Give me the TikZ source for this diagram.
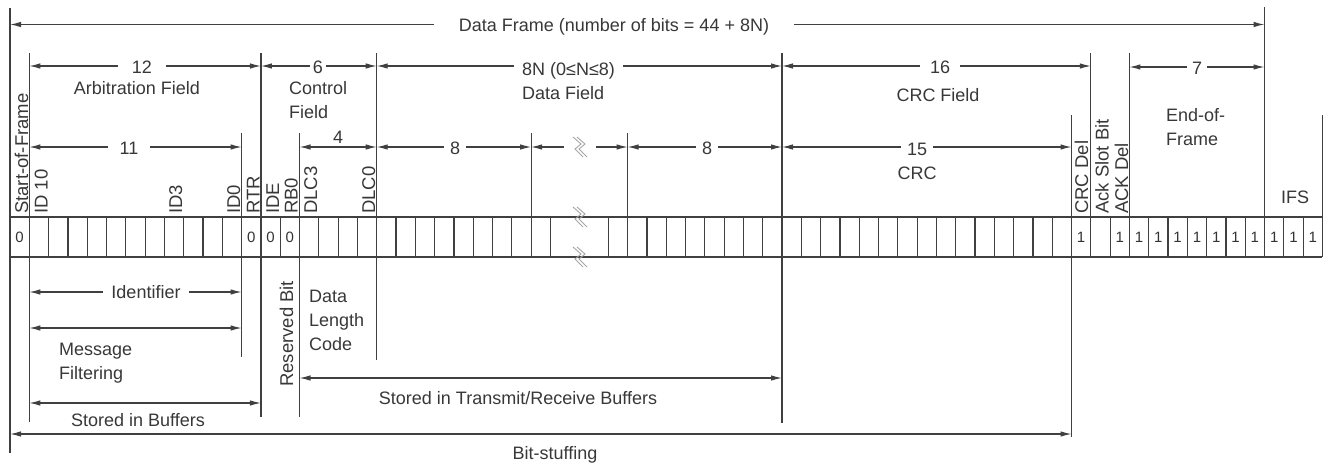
\documentclass[tikz,border=0pt]{standalone}
\usepackage{fontspec}
\setmainfont{Liberation Sans}
\usetikzlibrary{arrows.meta}
\newcommand\mydim[4]{%
  \coordinate (#1L) at ({10+#2*19.3},#4);
  \coordinate (#1R) at ({10+#3*19.3},#4);
  \draw[dimline] (#1L) -- (#1R);}
\begin{document}
\begin{tikzpicture}[x=1pt,y=-1pt,
  line/.style={draw=black!75, line width=1.2pt},
  dimline/.style={draw=black!75, line width=1.1pt, {Latex[length=11pt,width=5.5pt]}-{Latex[length=11pt,width=5.5pt]}},
  lbl/.style={font=\fontsize{18}{24}\selectfont, text=black!78, inner sep=0pt},
  gaplbl/.style={lbl, fill=white, anchor=base},
  vlbl/.style={lbl, font=\fontsize{18.5}{24}\selectfont, rotate=90, anchor=base west},
  bitval/.style={font=\fontsize{15}{18}\selectfont, text=black!80, inner sep=0pt},
  brkmark/.style={draw=black!35, line width=0.9pt}
]
\useasboundingbox (0,0) rectangle (1329,466);
% bit row
\foreach \i in {0,...,68}{
  \coordinate (t\i) at ({10+\i*19.3},217);
  \coordinate (b\i) at ({10+\i*19.3},257);
}
\draw[line] (t0) -- (t68);
\draw[line] (b0) -- (b68);
\foreach \i in {0,...,28,31,32,...,68}{ \draw[line] (t\i) -- (b\i); }
% long vertical lines
\foreach \i/\ya/\yb in {0/8/453, 1/53/422, 12/133/357, 13/53/417, 15/133/417, 19/53/360, 27/133/257, 32/133/257, 40/53/423, 55/115/437, 56/53/257, 58/53/257, 65/7/257, 68/115/257}{
  \coordinate (v\i a) at ({10+\i*19.3},\ya);
  \coordinate (v\i b) at ({10+\i*19.3},\yb);
  \draw[line] (v\i a) -- (v\i b);
}
% top dimension lines
\mydim{frame}{0}{65}{24.5}
\node[gaplbl, inner xsep=25pt] (frameT) at (614,31) {Data Frame (number of bits = 44 + 8N)};
\mydim{arb}{1}{13}{66}
\node[gaplbl, inner xsep=14pt] (arbN) at (142,73) {12};
\node[lbl, anchor=base] (arbT) at (137,94.5) {Arbitration Field};
\mydim{ctl}{13}{19}{66}
\node[gaplbl, inner xsep=3pt] (ctlN) at (318,73) {6};
\node[lbl, align=left, anchor=north west] (ctlT) at (289,81.5) {Control\\Field};
\mydim{dat}{19}{40}{66}
\node[lbl, align=left, anchor=north west, fill=white, inner xsep=8pt] (datT) at (514,62.5) {8N (0≤N≤8)\\Data Field};
\mydim{crcf}{40}{56}{66}
\node[gaplbl, inner xsep=10pt] (crcfN) at (940,73) {16};
\node[lbl, anchor=base] (crcfT) at (938,101.5) {CRC Field};
\mydim{eof}{58}{65}{67}
\node[gaplbl, inner xsep=5pt] (eofN) at (1197,74) {7};
\node[lbl, align=left, anchor=north west] (eofT) at (1166,108.5) {End-of-\\Frame};
% second row of dimensions
\mydim{id}{1}{12}{147}
\node[gaplbl, inner xsep=12pt] (idN) at (129,154.5) {11};
\mydim{dlc}{15}{19}{147}
\node[lbl, anchor=base] (dlcN) at (338,143) {4};
\mydim{da}{19}{27}{147}
\node[gaplbl, inner xsep=6pt] (daN) at (455,154.5) {8};
\mydim{brk}{27}{32}{147}
\node[fill=white, minimum width=32pt, minimum height=22pt, inner sep=0pt] (brkA) at (579.5,147) {};
\mydim{db}{32}{40}{147}
\node[gaplbl, inner xsep=6pt] (dbN) at (707,154.5) {8};
\mydim{crc}{40}{55}{147}
\node[gaplbl, inner xsep=6pt] (crcN) at (917,155) {15};
\node[lbl, anchor=base] (crcT) at (917,179.5) {CRC};
% break marks
\foreach \cy in {147,217,257}{
  \draw[brkmark] (573,\cy-10) -- (581,\cy-3) -- (575,\cy+2) -- (583,\cy+10);
  \draw[brkmark] (577,\cy-10) -- (585,\cy-3) -- (579,\cy+2) -- (587,\cy+10);
}
% vertical field labels
\foreach \t/\x in {Start-of-Frame/28, ID 10/47.5, ID3/182, ID0/240, RTR/259.5, IDE/279, RB0/297.5, DLC3/317, DLC0/375, CRC Del/1088, Ack Slot Bit/1108.5, ACK Del/1128}{
  \node[vlbl] at (\x,214) {\t};
}
\node[lbl, anchor=base] (ifsT) at (1295,203.5) {IFS};
% bit values
\foreach \i/\v in {0/0, 12/0, 13/0, 14/0, 55/1, 57/1, 58/1, 59/1, 60/1, 61/1, 62/1, 63/1, 64/1, 65/1, 66/1, 67/1}{
  \node[bitval] at ({10+(\i+0.5)*19.3},237) {\v};
}
% lower dimensions
\mydim{ident}{1}{12}{292}
\node[gaplbl, inner xsep=8pt] (identT) at (146,298.5) {Identifier};
\mydim{msg}{1}{12}{328}
\node[lbl, align=left, anchor=north west] (msgT) at (59,342.5) {Message\\Filtering};
\node[vlbl] (resT) at (293,387) {Reserved Bit};
\node[lbl, align=left, anchor=north west] (dlcT) at (309,289.5) {Data\\Length\\Code};
\mydim{sb}{1}{13}{403}
\node[lbl, anchor=base] (sbT) at (138,426.5) {Stored in Buffers};
\mydim{strb}{15}{40}{378}
\node[lbl, anchor=base] (strbT) at (518,404.5) {Stored in Transmit/Receive Buffers};
\mydim{bs}{0}{55}{434}
\node[lbl, anchor=base] (bsT) at (555,459.5) {Bit-stuffing};
\end{tikzpicture}
\end{document}
